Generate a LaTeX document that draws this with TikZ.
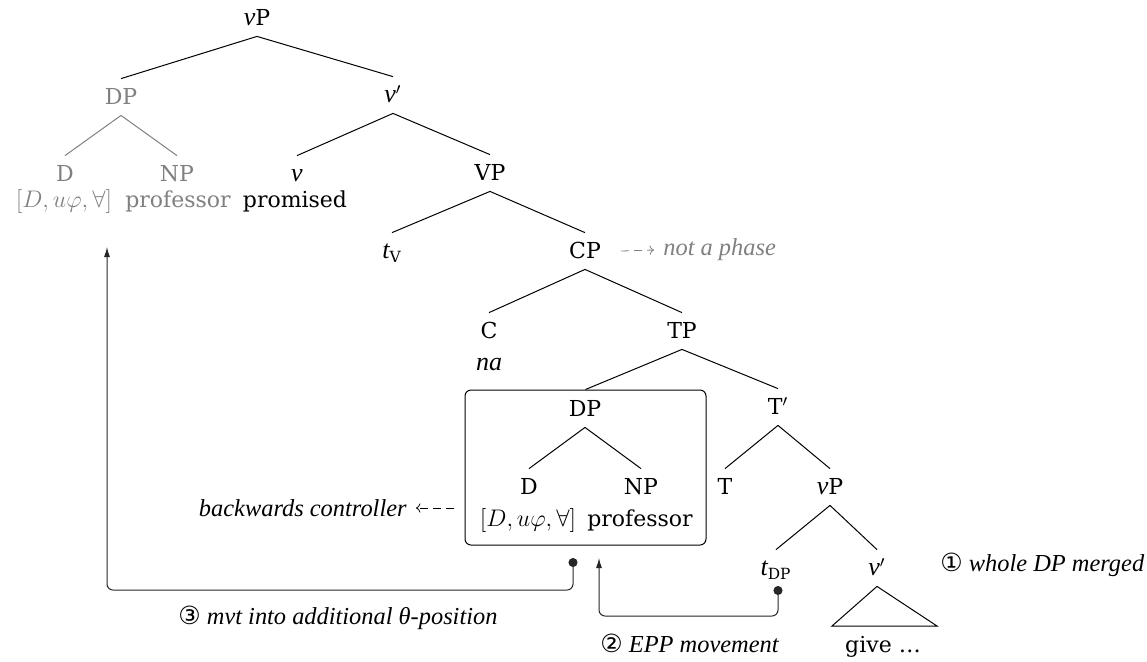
\documentclass[tikz,border=0pt]{standalone}
\usepackage{fontspec}
\setmainfont{DejaVu Serif}
\newfontfamily\circfont{DejaVu Sans}
\newfontfamily\itfont{Liberation Serif}
\usetikzlibrary{arrows.meta,calc}

% cursive italic for object-language forms and comments
\newcommand{\lmshape}{\itfont\itshape}
\newcommand{\lmi}[1]{{\lmshape\fontsize{13pt}{15pt}\selectfont #1}}
\newcommand{\feats}{{\fontsize{13pt}{15pt}\selectfont$[D, u\varphi, \forall]$}}
\newcommand{\stepno}[1]{{\circfont\upshape\fontsize{12.5pt}{14pt}\selectfont #1}}

\begin{document}
\begin{tikzpicture}[x=0.5pt,y=-0.5pt,
  font=\fontsize{11pt}{13pt}\selectfont,
  cat/.style={inner xsep=1pt, inner ysep=4.25pt, text height=8.5pt, text depth=1pt},
  word/.style={inner sep=0pt, anchor=base},
  ghost/.style={text=black!50},
  branch/.style={line width=0.5pt},
  ghostbranch/.style={line width=0.5pt, draw=black!50},
  note/.style={inner sep=0pt, anchor=west, font=\lmshape\fontsize{12.2pt}{14pt}\selectfont},
  mvt/.style={line width=0.5pt, draw=black!85, rounded corners=3pt,
    {Circle[length=4.5pt]}-{Latex[length=5pt,width=3pt]}},
  dasharr/.style={line width=0.4pt, dash pattern=on 4pt off 2.5pt, -{To[length=2.2pt]}}
]
\useasboundingbox (0,0) rectangle (1147,661);

% upper vP shell
\node[cat] (vP0) at (257,18) {\lmi{v}P};
\node[cat, ghost] (DP1) at (121,97) {DP};
\node[cat, ghost] (D1) at (65,174) {D};
\node[word, ghost] (D1w) at (64,207) {\feats};
\node[cat, ghost] (NP1) at (177,174) {NP};
\node[word, ghost] (NP1w) at (178,207) {professor};
\node[cat] (vbar1) at (393,95) {\lmi{v}$'$};
\node[cat] (v1) at (297,174) {\lmi{v}};
\node[word] (v1w) at (295,207) {promised};
\node[cat] (VP) at (490,173) {VP};
\node[cat] (tV) at (392,251) {\lmi{t}\textsubscript{V}};
\node[cat] (CP) at (585,251) {CP};
\node[cat] (C) at (489,331) {C};
\node[word] (Cw) at (489,370) {\lmi{na}};
\node[cat] (TP) at (682,331) {TP};

% embedded subject DP
\node[cat] (DP2) at (585,409) {DP};
\node[cat] (D2) at (529,487) {D};
\node[word] (D2w) at (528,526) {\feats};
\node[cat] (NP2) at (641,487) {NP};
\node[word] (NP2w) at (640,526) {professor};
\node[draw, line width=0.5pt, rounded corners=3pt, minimum width=120.5pt,
  minimum height=77.5pt, inner sep=0pt] (box) at (585.5,467.5) {};

% embedded T' and vP
\node[cat] (Tbar) at (778,407) {T$'$};
\node[cat] (T) at (725,487) {T};
\node[cat] (vP2) at (830,487) {\lmi{v}P};
\node[cat] (tDP) at (776,568) {\lmi{t}\textsubscript{DP}};
\node[cat] (vbar2) at (877,568) {\lmi{v}$'$};
\node[word] (give) at (883,652) {give \ldots};
\coordinate (triL) at (832,626);
\coordinate (triR) at (937,626);

% branches
\draw[branch] (vP0.south) -- (DP1.north);
\draw[branch] (vP0.south) -- (vbar1.north);
\draw[ghostbranch] (DP1.south) -- (D1.north);
\draw[ghostbranch] (DP1.south) -- (NP1.north);
\draw[branch] (vbar1.south) -- (v1.north);
\draw[branch] (vbar1.south) -- (VP.north);
\draw[branch] (VP.south) -- (tV.north);
\draw[branch] (VP.south) -- (CP.north);
\draw[branch] (CP.south) -- (C.north);
\draw[branch] (CP.south) -- (TP.north);
\draw[branch] (TP.south) -- (box.north);
\draw[branch] (TP.south) -- (Tbar.north);
\draw[branch] (DP2.south) -- (D2.north);
\draw[branch] (DP2.south) -- (NP2.north);
\draw[branch] (Tbar.south) -- (T.north);
\draw[branch] (Tbar.south) -- (vP2.north);
\draw[branch] (vP2.south) -- (tDP.north);
\draw[branch] (vP2.south) -- (vbar2.north);
\draw[branch] (vbar2.south) -- (triL) -- (triR) -- cycle;

% annotations
\node[note, text=black!50] (notphase) at (663,250) {not a phase};
\draw[dasharr, draw=black!50] ($(CP.east)+(18,0)$) -- ($(notphase.west)+(-9,0)$);

\node[note, anchor=east] (bc) at (407,508) {backwards controller};
\coordinate (bcstart) at (454,508);
\draw[dasharr] (bcstart) -- ($(bc.east)+(9,0)$);

\node[note] (n1) at (940,565) {\stepno{①} whole DP merged};
\node[note] (n2) at (600,643) {\stepno{②} EPP movement};
\node[note] (n3) at (178,618) {\stepno{③} mvt into additional θ-position};

% movement arrows
\coordinate (m2a) at (778,586);
\coordinate (m2b) at (599,558);
\draw[mvt] (m2a) -- ++(0,30) -| (m2b);

\coordinate (m3a) at (573,558);
\coordinate (m3b) at (107,247);
\draw[mvt] (m3a) -- ++(0,32) -| (m3b);
\end{tikzpicture}
\end{document}
